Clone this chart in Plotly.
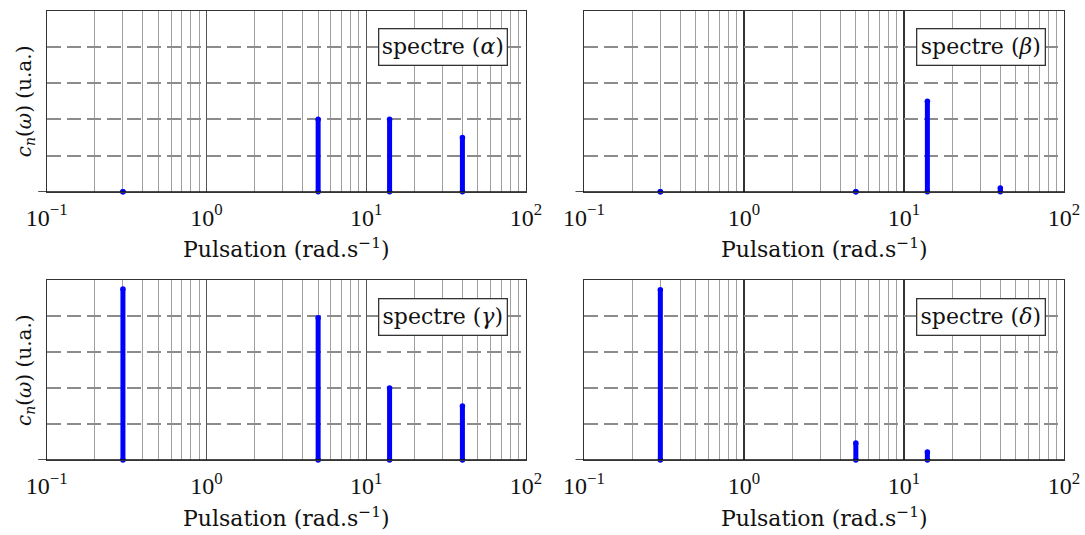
import plotly.graph_objects as go

# ---------------- data ----------------
omega = [0.3, 5, 14, 40]
c_alpha = [0, 2.0, 2.0, 1.5]
c_beta = [0, 0, 2.5, 0.1]
c_gamma = [4.75, 3.95, 2.0, 1.5]
c_delta = [4.73, 0.47, 0.22, None]
panel_labels = ["spectre (<i>α</i>)", "spectre (<i>β</i>)", "spectre (<i>γ</i>)", "spectre (<i>δ</i>)"]
x_tickvals = [0.1, 1, 10, 100]
x_ticktext = ["10<sup>−1</sup>", "10<sup>0</sup>", "10<sup>1</sup>", "10<sup>2</sup>"]
x_minor = [m * d for d in (0.1, 1, 10) for m in range(2, 10)]
y_grid = [1, 2, 3, 4]
x_title = "Pulsation (rad.s<sup>−1</sup>)"
y_title = "<i>c</i><sub><i>n</i></sub>(<i>ω</i>) (u.a.)"

W, H = 1085, 535
BLUE = "#0000ff"
TXT = "#111111"
SERIF = "DejaVu Serif"
TICKFONT = "Liberation Serif"

# panel pixel geometry (left, right, top, bottom)
panels = [
    (46.7, 526.0, 10.7, 191.7),
    (584.0, 1064.0, 10.7, 191.7),
    (46.7, 526.0, 280.0, 460.0),
    (584.0, 1064.0, 280.0, 460.0),
]
series = [c_alpha, c_beta, c_gamma, c_delta]

fig = go.Figure()
layout = dict(
    width=W, height=H, margin=dict(l=0, r=0, t=0, b=0, pad=0), autosize=False,
    paper_bgcolor="white", plot_bgcolor="white", showlegend=False,
    font=dict(family=SERIF, color=TXT),
)
annotations = []
shapes = []

for i, ((l, r, t, b), vals) in enumerate(zip(panels, series)):
    k = "" if i == 0 else str(i + 1)
    xa, ya = "x" + k, "y" + k
    right_panel = i in (1, 3)
    layout["xaxis" + k] = dict(
        type="log", range=[-1, 2], domain=[l / W, r / W], anchor=ya,
        tickmode="array", tickvals=x_tickvals, ticktext=x_ticktext,
        tickfont=dict(family=TICKFONT, size=24, color=TXT),
        ticks="", ticklabelstandoff=4, automargin=False,
        showgrid=True, gridcolor="#333333" if right_panel else "#555555",
        gridwidth=1.6 if right_panel else 1.0,
        minor=dict(tickmode="array", tickvals=x_minor, showgrid=True,
                   gridcolor="#a0a0a0", gridwidth=1.2, ticks=""),
        showline=True, linecolor="#333333", linewidth=1, mirror=True,
        zeroline=False, fixedrange=True,
    )
    layout["yaxis" + k] = dict(
        range=[0, 5], domain=[1 - b / H, 1 - t / H], anchor=xa,
        tickmode="array", tickvals=y_grid, showticklabels=False, ticks="",
        automargin=False,
        showgrid=True, gridcolor="#8c8c8c", gridwidth=1.5, griddash="14px,6px",
        showline=True, linecolor="#333333", linewidth=1, mirror=True,
        zeroline=False, fixedrange=True,
    )
    # stems
    xs, ys = [], []
    mx, my = [], []
    for w, v in zip(omega, vals):
        if v is None:
            continue
        xs += [w, w, None]
        ys += [0, v, None]
        mx += [w, w]
        my += [0, v]
    fig.add_trace(go.Scatter(x=xs, y=ys, mode="lines", xaxis=xa, yaxis=ya,
                             line=dict(color=BLUE, width=5), hoverinfo="skip"))
    fig.add_trace(go.Scatter(x=mx, y=my, mode="markers", xaxis=xa, yaxis=ya,
                             marker=dict(color=BLUE, size=5.5, line=dict(width=0)),
                             hoverinfo="skip", cliponaxis=False))
    # baseline (extends slightly left)
    shapes.append(dict(type="line", xref="paper", yref=ya, x0=(l - 8.5) / W, x1=r / W,
                       y0=0, y1=0, line=dict(color="#111111", width=1.6), layer="above"))
    # legend-like box
    annotations.append(dict(
        text=panel_labels[i], xref="paper", yref="paper",
        x=(r - 18) / W, y=1 - (t + 17.5) / H, xanchor="right", yanchor="top",
        showarrow=False, font=dict(family=SERIF, size=22, color=TXT),
        bgcolor="white", bordercolor="#333333", borderwidth=1.3, borderpad=3,
        width=121, height=29,
    ))
    # x title
    annotations.append(dict(
        text=x_title, xref="paper", yref="paper",
        x=(l + r) / 2 / W, y=1 - (b + 56.5) / H, xanchor="center", yanchor="middle",
        showarrow=False, font=dict(family=SERIF, size=22, color=TXT),
    ))
    if not right_panel:
        annotations.append(dict(
            text=y_title, xref="paper", yref="paper", textangle=-90,
            x=25 / W, y=1 - (t + b) / 2 / H, xanchor="center", yanchor="middle",
            showarrow=False, font=dict(family=SERIF, size=20, color=TXT),
        ))

layout["annotations"] = annotations
layout["shapes"] = shapes
fig.update_layout(**layout)
fig.write_html(
    "out.html",
    config={"displayModeBar": False},
    post_script="document.body.style.margin='0';document.body.style.padding='0';document.body.style.overflow='hidden';",
)
